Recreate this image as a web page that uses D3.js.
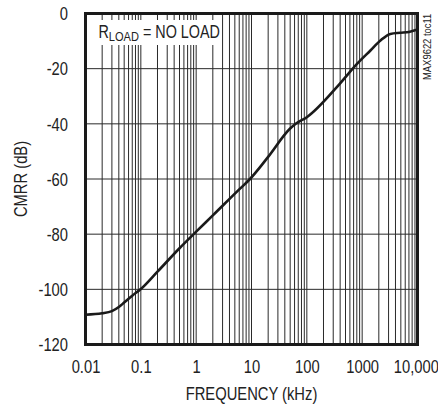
<!DOCTYPE html>
<html>
<head>
<meta charset="utf-8">
<script src="https://cdn.jsdelivr.net/npm/d3@7"></script>
<style>
  html, body { margin: 0; padding: 0; background: #fff; }
  svg { display: block; }
  text { font-family: "Liberation Sans", Arial, sans-serif; fill: #222; }
</style>
</head>
<body>
<svg id="chart" width="438" height="408"></svg>
<script>
// ---- data ----
const freqKHz = [0.01, 0.02, 0.03, 0.04, 0.05, 0.07, 0.1, 0.2, 0.5, 1, 2, 6.2, 9.4, 20, 49.4, 63, 100, 393, 813, 1410, 2140, 3240, 4900, 7000, 10000];
const cmrrDB  = [-109.2, -108.7, -107.9, -106.4, -104.8, -102.3, -99.9, -93.6, -85.1, -79.1, -73.2, -63.5, -60, -52.0, -41.8, -40, -37.6, -25.5, -18.2, -13.4, -9.8, -7.4, -7.0, -6.7, -5.8];
const xTickValues = [0.01, 0.1, 1, 10, 100, 1000, 10000];
const xTickLabels = ["0.01", "0.1", "1", "10", "100", "1000", "10,000"];
const yTickValues = [0, -20, -40, -60, -80, -100, -120];
const yTickLabels = ["0", "-20", "-40", "-60", "-80", "-100", "-120"];
const legendMain = "R";
const legendSub = "LOAD";
const legendRest = " = NO LOAD";
const xTitle = "FREQUENCY (kHz)";
const yTitle = "CMRR (dB)";
const sideNote = "MAX9622 toc11";

// ---- layout ----
const NARROW = 0.82; // condensed look
const svg = d3.select("#chart");
const L = 85.5, R = 417.5, T = 13.5, B = 344.5;

const x = d3.scaleLog().domain([0.01, 10000]).range([L, R]);
const y = d3.scaleLinear().domain([-120, 0]).range([B, T]);

// vertical grid values (1..9 per decade)
const gridX = [];
for (let e = -2; e < 4; e++) {
  for (let m = 1; m <= 9; m++) gridX.push(m * Math.pow(10, e));
}
gridX.push(10000);

const grid = svg.append("g");
grid.selectAll("line.vx").data(gridX).enter().append("line")
  .attr("x1", d => x(d)).attr("x2", d => x(d))
  .attr("y1", T).attr("y2", B)
  .attr("stroke", "#2a2a2a").attr("stroke-width", 1);
grid.selectAll("line.hy").data(yTickValues).enter().append("line")
  .attr("x1", L).attr("x2", R)
  .attr("y1", d => y(d)).attr("y2", d => y(d))
  .attr("stroke", "#2a2a2a").attr("stroke-width", 1);

// legend box (white, covering grid)
const lg = svg.append("g");
lg.append("rect").attr("x", L + 1).attr("y", 20).attr("width", 135).attr("height", 25).attr("fill", "#fff");
const lt = lg.append("g").attr("transform", `translate(98.5,38) scale(${NARROW},1)`)
  .append("text").attr("x", 0).attr("y", 0).attr("font-size", 17.5);
lt.append("tspan").text(legendMain);
lt.append("tspan").attr("font-size", 13.5).attr("dy", 3).text(legendSub);
lt.append("tspan").attr("dy", -3).text(legendRest);

// curve
const line = d3.line()
  .x(d => x(d[0]))
  .y(d => y(d[1]))
  .curve(d3.curveMonotoneX);
svg.append("path")
  .datum(freqKHz.map((f, i) => [f, cmrrDB[i]]))
  .attr("d", line)
  .attr("fill", "none")
  .attr("stroke", "#1a1a1a")
  .attr("stroke-width", 2.6)
  .attr("stroke-linejoin", "round");

// frame
svg.append("rect").attr("x", L).attr("y", T).attr("width", R - L).attr("height", B - T)
  .attr("fill", "none").attr("stroke", "#1a1a1a").attr("stroke-width", 3);

// axes (labels only, via d3 axes)
const xAxis = d3.axisBottom(x).tickValues(xTickValues)
  .tickFormat((d, i) => xTickLabels[i]).tickSize(0).tickPadding(0);
const gx = svg.append("g").attr("transform", `translate(0,${B})`).call(xAxis);
gx.select(".domain").remove();
gx.selectAll("text").attr("font-size", 18).attr("dy", null).attr("y", 29)
  .attr("x", (d, i) => i === xTickValues.length - 1 ? -2 : 0)
  .attr("transform", `scale(${NARROW},1)`)
  .style("font-family", '"Liberation Sans", Arial, sans-serif').attr("fill", "#222");

const yAxis = d3.axisLeft(y).tickValues(yTickValues)
  .tickFormat((d, i) => yTickLabels[i]).tickSize(0).tickPadding(0);
const gy = svg.append("g").attr("transform", `translate(68,0)`).call(yAxis);
gy.select(".domain").remove();
gy.selectAll("text").attr("font-size", 18).attr("x", 0).attr("dy", "0.35em")
  .attr("transform", `scale(${NARROW},1)`)
  .style("font-family", '"Liberation Sans", Arial, sans-serif').attr("fill", "#222");

// titles
svg.append("g").attr("transform", `translate(${(L + R) / 2},400) scale(${NARROW},1)`)
  .append("text").attr("text-anchor", "middle").attr("font-size", 18).text(xTitle);
svg.append("g").attr("transform", `translate(27,${(T + B) / 2}) rotate(-90) scale(${NARROW},1)`)
  .append("text").attr("text-anchor", "middle").attr("font-size", 18).text(yTitle);
svg.append("g").attr("transform", `translate(430.5,80) rotate(-90) scale(${NARROW},1)`)
  .append("text").attr("text-anchor", "start").attr("font-size", 11.5).text(sideNote);
</script>
</body>
</html>
